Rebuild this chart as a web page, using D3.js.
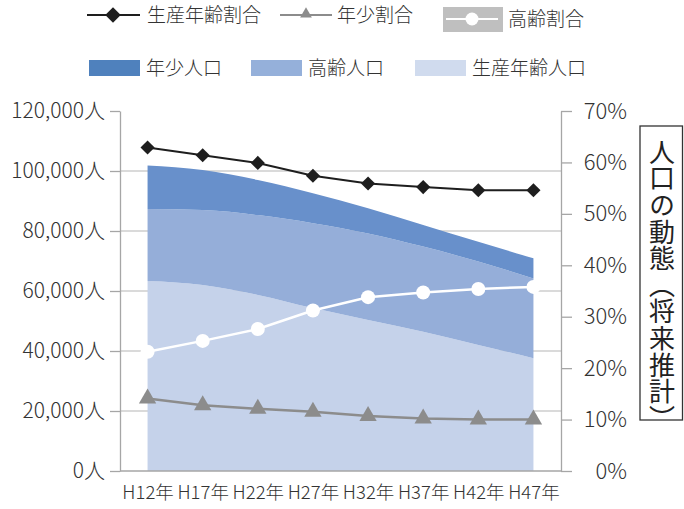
<!DOCTYPE html>
<html>
<head>
<meta charset="utf-8">
<script src="https://cdn.jsdelivr.net/npm/d3@7"></script>
<style>
  body { margin: 0; background: #fff; }
  svg { display: block; font-family: "Noto Sans CJK JP", "Noto Sans", sans-serif; font-weight: 300; }
</style>
</head>
<body>
<svg id="chart" width="684" height="509"></svg>
<script>
// categories
const years = ["H12年", "H17年", "H22年", "H27年", "H32年", "H37年", "H42年", "H47年"];

// population (人)
const seisanPop = [63300, 62000, 58700, 54300, 50300, 46400, 42000, 37600];
const koreiPop = [24000, 25000, 26600, 28300, 28900, 28400, 27800, 26600];
const nenshoPop = [14500, 13300, 11700, 10000, 8400, 7200, 6600, 6700];

// ratios (%)
const seisanRate = [62.9, 61.4, 59.9, 57.4, 55.9, 55.2, 54.6, 54.6];
const nenshoRate = [14.1, 12.8, 12.1, 11.5, 10.7, 10.2, 10.0, 10.0];
const koreiRate = [23.2, 25.3, 27.6, 31.2, 33.8, 34.7, 35.4, 35.8];

// tick values
const popTicks = [0, 20000, 40000, 60000, 80000, 100000, 120000];
const rateTicks = [0, 10, 20, 30, 40, 50, 60, 70];

const title = "人口の動態（将来推計）";

const svg = d3.select("#chart");
const plotLeft = 120, plotRight = 561, plotTop = 111, plotBottom = 471;

const x = d3.scalePoint().domain(years).range([plotLeft, plotRight]).padding(0.5);
const yL = d3.scaleLinear().domain([0, 120000]).range([plotBottom, plotTop]);
const yR = d3.scaleLinear().domain([0, 70]).range([plotBottom, plotTop]);

// gridlines (behind areas)
svg.append("g")
  .selectAll("line")
  .data(popTicks.filter(d => d > 0 && d < 120000))
  .join("line")
  .attr("x1", plotLeft).attr("x2", plotRight)
  .attr("y1", d => yL(d)).attr("y2", d => yL(d))
  .attr("stroke", "#b5b5b5").attr("stroke-width", 1);

// stacked areas
const rows = years.map((y, i) => ({ year: y, seisan: seisanPop[i], korei: koreiPop[i], nensho: nenshoPop[i] }));
const stack = d3.stack().keys(["seisan", "korei", "nensho"]);
const layers = stack(rows);
const areaColors = { seisan: "#c5d2ea", korei: "#95aed9", nensho: "#6890cb" };

const area = d3.area()
  .x(d => x(d.data.year))
  .y0(d => yL(d[0]))
  .y1(d => yL(d[1]))
  .curve(d3.curveMonotoneX);

svg.append("g")
  .selectAll("path")
  .data(layers)
  .join("path")
  .attr("d", area)
  .attr("fill", d => areaColors[d.key]);

// axes
const axisL = svg.append("g")
  .attr("transform", `translate(${plotLeft},0)`)
  .call(d3.axisLeft(yL).tickValues(popTicks).tickSize(10).tickSizeOuter(0).tickPadding(5)
    .tickFormat(d => d3.format(",")(d) + "人"));

const axisR = svg.append("g")
  .attr("transform", `translate(${plotRight},0)`)
  .call(d3.axisRight(yR).tickValues(rateTicks).tickSize(11).tickSizeOuter(0)
    .tickFormat(d => d + "%"));

axisR.selectAll("text").attr("text-anchor", "end").attr("x", 66);

const axisB = svg.append("g")
  .attr("transform", `translate(0,${plotBottom})`)
  .call(d3.axisBottom(x).tickSize(0).tickSizeOuter(0).tickPadding(12));
axisB.select(".domain").attr("d", `M${plotLeft},0H${plotRight}`);

[axisL, axisR, axisB].forEach(g => {
  g.attr("font-family", null);
  g.select(".domain").attr("stroke", "#a6a6a6").attr("stroke-width", 1.3);
  g.selectAll(".tick line").attr("stroke", "#a6a6a6").attr("stroke-width", 1.3);
  g.selectAll("text").attr("fill", "#333");
});
axisL.selectAll("text").attr("font-size", 21);
axisR.selectAll("text").attr("font-size", 22);
axisB.selectAll("text").attr("font-size", 18.5).attr("dy", "0.88em");

// ratio lines
const line = d3.line().x((d, i) => x(years[i])).y(d => yR(d));

const diamond = d3.symbol().type(d3.symbolSquare).size(100);
const triangle = d3.symbol().type(d3.symbolTriangle).size(130);

// 年少割合
svg.append("path").datum(nenshoRate).attr("d", line)
  .attr("fill", "none").attr("stroke", "#8c8c8c").attr("stroke-width", 2.5);
svg.append("g").selectAll("path").data(nenshoRate).join("path")
  .attr("d", triangle)
  .attr("transform", (d, i) => `translate(${x(years[i])},${yR(d)})`)
  .attr("fill", "#8c8c8c");

// 高齢割合
svg.append("path").datum(koreiRate).attr("d", line)
  .attr("fill", "none").attr("stroke", "#fff").attr("stroke-width", 2.5);
svg.append("g").selectAll("circle").data(koreiRate).join("circle")
  .attr("cx", (d, i) => x(years[i])).attr("cy", d => yR(d))
  .attr("r", 7).attr("fill", "#fff");

// 生産年齢割合
svg.append("path").datum(seisanRate).attr("d", line)
  .attr("fill", "none").attr("stroke", "#1e1e1e").attr("stroke-width", 2);
svg.append("g").selectAll("path").data(seisanRate).join("path")
  .attr("d", diamond)
  .attr("transform", (d, i) => `translate(${x(years[i])},${yR(d)}) rotate(45)`)
  .attr("fill", "#1e1e1e");

// legend row 1
const lg = svg.append("g").attr("font-size", 19).attr("fill", "#333");

lg.append("line").attr("x1", 87).attr("x2", 140).attr("y1", 15).attr("y2", 15)
  .attr("stroke", "#1e1e1e").attr("stroke-width", 2);
lg.append("path").attr("d", d3.symbol().type(d3.symbolSquare).size(120))
  .attr("transform", "translate(113,15) rotate(45)").attr("fill", "#1e1e1e");
lg.append("text").attr("x", 147).attr("y", 22).text("生産年齢割合");

lg.append("line").attr("x1", 280).attr("x2", 332).attr("y1", 15).attr("y2", 15)
  .attr("stroke", "#8c8c8c").attr("stroke-width", 2);
lg.append("path").attr("d", d3.symbol().type(d3.symbolTriangle).size(60))
  .attr("transform", "translate(306,14)").attr("fill", "#8c8c8c");
lg.append("text").attr("x", 337).attr("y", 22).text("年少割合");

lg.append("rect").attr("x", 443).attr("y", 7).attr("width", 60).attr("height", 25).attr("fill", "#bfbfbf");
lg.append("line").attr("x1", 446).attr("x2", 498).attr("y1", 19).attr("y2", 19)
  .attr("stroke", "#fff").attr("stroke-width", 2);
lg.append("circle").attr("cx", 472).attr("cy", 19).attr("r", 6.5).attr("fill", "#fff");
lg.append("text").attr("x", 508).attr("y", 26).text("高齢割合");

// legend row 2
const legendAreas = [
  { label: "年少人口", color: "#4f81bd", x: 89 },
  { label: "高齢人口", color: "#95b0da", x: 251 },
  { label: "生産年齢人口", color: "#d0dbee", x: 415 }
];
lg.selectAll("g.la").data(legendAreas).join("g").attr("class", "la")
  .each(function (d) {
    const g = d3.select(this);
    g.append("rect").attr("x", d.x).attr("y", 60).attr("width", 51).attr("height", 16).attr("fill", d.color);
    g.append("text").attr("x", d.x + 57).attr("y", 75).text(d.label);
  });

// vertical title
svg.append("rect").attr("x", 640).attr("y", 126).attr("width", 42.5).attr("height", 294)
  .attr("fill", "none").attr("stroke", "#333").attr("stroke-width", 1.3);
svg.append("text")
  .attr("x", 662).attr("y", 139)
  .style("writing-mode", "vertical-rl")
  .attr("font-size", 26).attr("font-weight", 400).attr("fill", "#222")
  .attr("letter-spacing", 0.6)
  .text(title);
</script>
</body>
</html>
